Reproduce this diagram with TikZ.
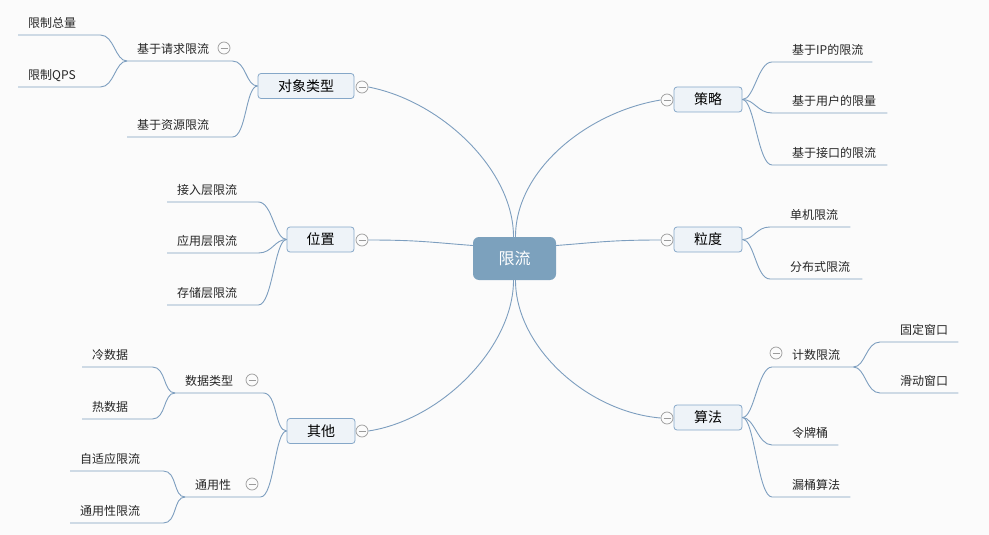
\documentclass[tikz,border=0pt]{standalone}
\usepackage{fontspec}
\setmainfont{Noto Sans CJK SC}
\usepackage{tikz}
\usetikzlibrary{positioning}
\definecolor{bgcol}{HTML}{FBFBFB}
\definecolor{linecol}{HTML}{7D9EBF}
\definecolor{topicline}{HTML}{85A7C8}
\definecolor{topicfill}{HTML}{EEF3F8}
\definecolor{rootcol}{HTML}{7CA1BD}
\definecolor{foldcol}{HTML}{9B9B9B}
\definecolor{textcol}{HTML}{262626}
\tikzset{
  branch/.style={draw=linecol, line width=0.9pt},
  root/.style={rectangle, rounded corners=6pt, fill=rootcol, text=white,
    font=\fontsize{16}{19}\selectfont, minimum width=83pt, minimum height=43pt, inner sep=0pt},
  topic/.style={rectangle, rounded corners=3pt, draw=topicline, fill=topicfill, line width=0.8pt,
    text=black, font=\fontsize{14}{17}\selectfont, minimum height=25pt, minimum width=#1, inner sep=0pt},
  leaf/.style={anchor=south west, inner xsep=10pt, inner ysep=5pt, text height=10pt, text depth=2pt,
    text width=#1, align=left, text=textcol, font=\fontsize{12}{14}\selectfont},
  leafR/.style={leaf=#1, execute at begin node={\hspace*{10pt}}},
  fold/.style={circle, draw=foldcol, fill=bgcol, line width=0.7pt, minimum size=12pt, inner sep=0pt,
    path picture={\draw[foldcol, line width=0.7pt] ([xshift=2.5pt]path picture bounding box.west) -- ([xshift=-2.5pt]path picture bounding box.east);}}
}
\begin{document}
\begin{tikzpicture}[x=1pt,y=-1pt]
\fill[bgcol] (0,0) rectangle (989,535);
\useasboundingbox (0,0) rectangle (989,535);
% centre and main topics
\node[root] (root) at (514.5,258.5) {限流};
\node[topic=96pt] (obj) at (306,86) {对象类型};
\node[topic=67pt] (pos) at (320.5,239.5) {位置};
\node[topic=68pt] (oth) at (321,431) {其他};
\node[topic=68pt] (stg) at (708,99.5) {策略};
\node[topic=68pt] (grn) at (708,239.5) {粒度};
\node[topic=68pt] (alg) at (708,417.5) {算法};
\node[fold] (fobj) at (362,87) {};
\node[fold] (fpos) at (362,240) {};
\node[fold] (foth) at (362,431) {};
\node[fold] (fstg) at (667,100) {};
\node[fold] (fgrn) at (667,240) {};
\node[fold] (falg) at (667,418) {};
\draw[branch] (fobj.east) .. controls +(73,14) and +(0,-67) .. ([xshift=-1pt]root.north);
\draw[branch] (fstg.west) .. controls +(-73,12) and +(0,-67) .. ([xshift=1pt]root.north);
\draw[branch] (fpos.east) .. controls +(50,0) and +(-40,-3) .. ([yshift=13pt]root.west);
\draw[branch] (fgrn.west) .. controls +(-50,0) and +(40,-3) .. ([yshift=13pt]root.east);
\draw[branch] (foth.east) .. controls +(73,-11) and +(0,67) .. ([xshift=-1pt]root.south);
\draw[branch] (falg.west) .. controls +(-73,-6) and +(0,67) .. ([xshift=1pt]root.south);
% left side leaves
\node[leaf=85pt] (q1) at (127,61) {基于请求限流};
\node[leaf=85pt] (q2) at (127,137) {基于资源限流};
\node[leaf=62pt] (a1) at (18,35) {限制总量};
\node[leaf=62pt] (a2) at (18,87) {限制QPS};
\node[leaf=71pt] (p1) at (167,202) {接入层限流};
\node[leaf=71pt] (p2) at (167,253) {应用层限流};
\node[leaf=71pt] (p3) at (167,305) {存储层限流};
\node[leaf=68pt] (d1) at (175,393) {数据类型};
\node[leaf=55pt] (d2) at (185,497) {通用性};
\node[leaf=50pt] (c1) at (82,367) {冷数据};
\node[leaf=50pt] (c2) at (82,419) {热数据};
\node[leaf=73pt] (e1) at (70,471) {自适应限流};
\node[leaf=73pt] (e2) at (70,523) {通用性限流};
\node[fold] (fq1) at (224,48) {};
\node[fold] (fd1) at (252,380) {};
\node[fold] (fd2) at (252,484) {};
% right side leaves
\node[leafR=80pt] (s1) at (772,62) {基于IP的限流};
\node[leafR=95pt] (s2) at (772,113) {基于用户的限量};
\node[leafR=95pt] (s3) at (772,165) {基于接口的限流};
\node[leafR=60pt] (g1) at (770,227) {单机限流};
\node[leafR=72pt] (g2) at (770,279) {分布式限流};
\node[leafR=61pt] (k1) at (772,367) {计数限流};
\node[leafR=46pt] (k2) at (772,445) {令牌桶};
\node[leafR=58pt] (k3) at (772,497) {漏桶算法};
\node[leafR=58pt] (w1) at (880,342) {固定窗口};
\node[leafR=58pt] (w2) at (880,393) {滑动窗口};
\node[fold] (fk1) at (776,353) {};
% branches
\foreach \p/\c in {obj.west/q1, obj.west/q2, q1.south west/a1, q1.south west/a2,
    pos.west/p1, pos.west/p2, pos.west/p3, oth.west/d1, oth.west/d2,
    d1.south west/c1, d1.south west/c2, d2.south west/e1, d2.south west/e2}
  \draw[branch] (\p) .. controls +(-12,0) and +(14,0) .. (\c.south east) -- (\c.south west);
\foreach \p/\c in {stg.east/s1, stg.east/s2, stg.east/s3, grn.east/g1, grn.east/g2,
    alg.east/k1, alg.east/k2, alg.east/k3, k1.south east/w1, k1.south east/w2}
  \draw[branch] (\p) .. controls +(12,0) and +(-14,0) .. (\c.south west) -- (\c.south east);
\end{tikzpicture}
\end{document}
